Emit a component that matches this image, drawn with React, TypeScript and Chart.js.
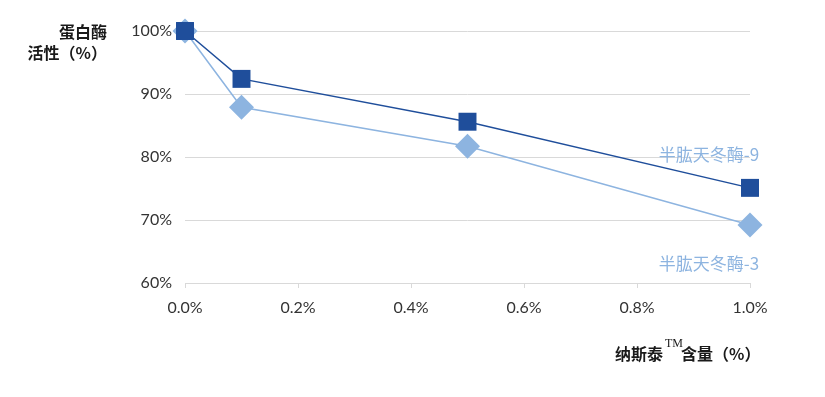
import React, { useEffect, useRef } from "react";
import { Chart, registerables } from "chart.js";

Chart.register(...registerables);

const xValues = [0, 0.1, 0.5, 1.0];
const caspase9 = [100, 92.4, 85.6, 75.1];
const caspase3 = [100, 87.9, 81.7, 69.2];
const seriesNames = ["半肱天冬酶-9", "半肱天冬酶-3"];
const yTitle = ["蛋白酶", "活性（%）"];
const xTitleParts = ["纳斯泰", "TM", "含量（%）"];

const DARK = "#1F4E9B";
const LIGHT = "#8DB4E0";
const CJK = '"Noto Sans CJK SC", "Noto Sans", sans-serif';
const LATIN = 'Lato, "Noto Sans", sans-serif';

export default function App() {
  const ref = useRef<HTMLCanvasElement>(null);
  useEffect(() => {
    if (!ref.current) return;
    const labelsPlugin = {
      id: "extraText",
      afterDraw(chart: any) {
        const ctx = chart.ctx;
        const xs = chart.scales.x;
        const ys = chart.scales.y;
        ctx.save();
        // series labels
        ctx.font = `17px ${CJK}`;
        ctx.fillStyle = LIGHT;
        ctx.textAlign = "center";
        ctx.textBaseline = "middle";
        const last = xValues.length - 1;
        const lx = xs.getPixelForValue(xValues[last]) - 41;
        ctx.fillText(seriesNames[0], lx, ys.getPixelForValue(caspase9[last]) - 33);
        ctx.fillText(seriesNames[1], lx, ys.getPixelForValue(caspase3[last]) + 39);
        // y title
        ctx.fillStyle = "#1a1a1a";
        ctx.font = `bold 16px ${CJK}`;
        ctx.textAlign = "right";
        ctx.fillText(yTitle[0], 107, 32);
        ctx.fillText(yTitle[1], 107, 53);
        // x title
        ctx.textAlign = "left";
        const y = 354;
        ctx.font = `bold 16px ${CJK}`;
        ctx.fillText(xTitleParts[0], 615, y);
        ctx.font = `12px "Liberation Serif", serif`;
        ctx.fillText(xTitleParts[1], 665, y - 10);
        ctx.font = `bold 16px ${CJK}`;
        ctx.fillText(xTitleParts[2], 681, y);
        ctx.restore();
      },
    };
    const chart = new Chart(ref.current, {
      type: "scatter",
      data: {
        datasets: [
          {
            label: seriesNames[0],
            data: xValues.map((v, i) => ({ x: v, y: caspase9[i] })),
            showLine: true,
            clip: false,
            borderColor: DARK,
            backgroundColor: DARK,
            borderWidth: 1.5,
            pointStyle: "rect",
            pointRadius: 12.7,
            pointBorderWidth: 0,
          },
          {
            label: seriesNames[1],
            data: xValues.map((v, i) => ({ x: v, y: caspase3[i] })),
            showLine: true,
            clip: false,
            borderColor: LIGHT,
            backgroundColor: LIGHT,
            borderWidth: 1.5,
            pointStyle: "rectRot",
            pointRadius: 12.5,
            pointBorderWidth: 0,
          },
        ],
      },
      options: {
        animation: false,
        responsive: false,
        layout: { padding: { top: 31, left: 0, right: 75, bottom: 0 } },
        plugins: {
          legend: { display: false },
          tooltip: { enabled: false },
        },
        scales: {
          x: {
            type: "linear",
            min: 0,
            max: 1,
            afterFit(scale: any) {
              scale.height = 114;
            },
            ticks: {
              stepSize: 0.2,
              padding: 10,
              color: "#333",
              font: { family: LATIN, size: 16 },
              callback: (v: any) => Number(v).toFixed(1) + "%",
            },
            grid: {
              drawOnChartArea: false,
              drawTicks: true,
              tickLength: 5,
              color: "#d9d9d9",
            },
            border: { display: true, color: "#d9d9d9" },
          },
          y: {
            min: 60,
            max: 100,
            afterFit(scale: any) {
              scale.width = 185;
            },
            ticks: {
              stepSize: 10,
              padding: 13,
              color: "#333",
              font: { family: LATIN, size: 16 },
              callback: (v: any) => v + "%",
            },
            grid: { color: "#d9d9d9", drawTicks: false },
            border: { display: false },
          },
        },
      },
      plugins: [labelsPlugin],
    });
    return () => chart.destroy();
  }, []);
  return (
    <div style={{ position: "absolute", left: 0, top: 0, width: 825, height: 397, background: "#fff" }}>
      <canvas ref={ref} width={825} height={397} />
    </div>
  );
}
